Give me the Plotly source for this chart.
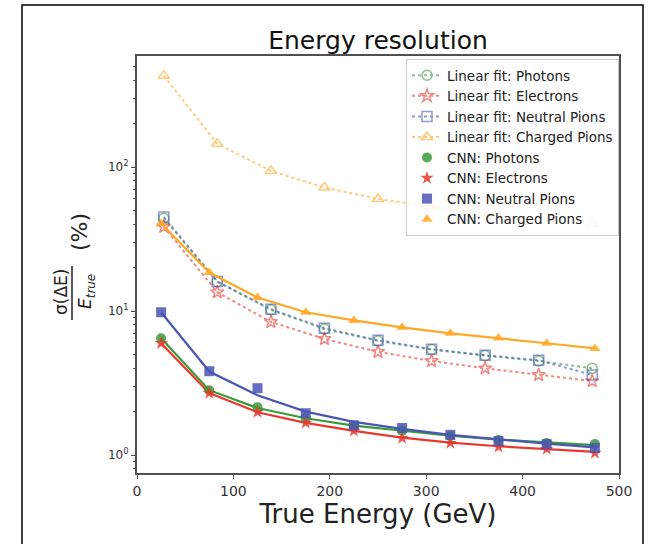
import plotly.graph_objects as go

# ---------------- data ----------------
E_lin = [27.8, 83.3, 138.9, 194.4, 250.0, 305.6, 361.1, 416.7, 472.2]
lin_photons = [44, 16, 10.2, 7.5, 6.2, 5.4, 4.9, 4.5, 4.0]
lin_electrons = [38.5, 13.5, 8.4, 6.4, 5.2, 4.5, 4.0, 3.6, 3.26]
lin_neutral = [45, 16, 10.3, 7.6, 6.27, 5.43, 4.93, 4.55, 3.6]
lin_charged = [430, 145, 94, 72, 60, 53, 47.5, 42.5, 40.5]

E_cnn = [25, 75, 125, 175, 225, 275, 325, 375, 425, 475]
cnn_photons = [6.47, 2.82, 2.15, 1.80, 1.59, 1.47, 1.35, 1.27, 1.21, 1.19]
cnn_electrons = [5.97, 2.69, 1.99, 1.67, 1.47, 1.31, 1.21, 1.14, 1.10, 1.03]
cnn_neutral = [9.8, 3.82, 2.91, 1.95, 1.61, 1.54, 1.38, 1.25, 1.19, 1.12]
cnn_charged = [40.5, 18.5, 12.4, 9.8, 8.6, 7.7, 7.0, 6.5, 5.97, 5.5]

fit_photons = [6.47, 2.82, 2.12, 1.80, 1.60, 1.47, 1.36, 1.28, 1.22, 1.17]
fit_electrons = [5.97, 2.69, 1.98, 1.67, 1.47, 1.32, 1.22, 1.15, 1.10, 1.05]
fit_neutral = [9.8, 3.8, 2.6, 2.0, 1.7, 1.52, 1.38, 1.28, 1.20, 1.13]
fit_charged = [40.5, 18.5, 12.4, 9.8, 8.6, 7.7, 7.0, 6.5, 5.97, 5.5]

y_tickvals = [1, 10, 100]
y_ticktext = ["10<sup>0</sup>", "10<sup>1</sup>", "10<sup>2</sup>"]
x_tickvals = [0, 100, 200, 300, 400, 500]

GREEN = "#3a9a3a"
RED = "#e8392f"
BLUE = "#4b55b5"
ORANGE = "#ffa726"

FONT = "DejaVu Sans"

fig = go.Figure()

lin_series = [
    ("Linear fit: Photons", lin_photons, GREEN, "circle-open"),
    ("Linear fit: Electrons", lin_electrons, RED, "star-open"),
    ("Linear fit: Neutral Pions", lin_neutral, BLUE, "square-open"),
    ("Linear fit: Charged Pions", lin_charged, ORANGE, "triangle-up-open"),
]
for name, vals, col, sym in lin_series:
    fig.add_trace(go.Scatter(
        x=E_lin, y=vals, name=name, mode="lines+markers",
        line=dict(color=col, width=2, dash="dot"),
        marker=dict(symbol=sym, size=10, color=col, line=dict(width=1.5, color=col)),
        opacity=0.6,
    ))

fit_series = [
    (fit_photons, GREEN), (fit_electrons, RED), (fit_neutral, BLUE), (fit_charged, ORANGE)
]
for vals, col in fit_series:
    fig.add_trace(go.Scatter(
        x=E_cnn, y=vals, mode="lines", showlegend=False, hoverinfo="skip",
        line=dict(color=col, width=2.2),
    ))

cnn_series = [
    ("CNN: Photons", cnn_photons, GREEN, "circle"),
    ("CNN: Electrons", cnn_electrons, RED, "star"),
    ("CNN: Neutral Pions", cnn_neutral, BLUE, "square"),
    ("CNN: Charged Pions", cnn_charged, ORANGE, "triangle-up"),
]
for name, vals, col, sym in cnn_series:
    fig.add_trace(go.Scatter(
        x=E_cnn, y=vals, name=name, mode="markers",
        marker=dict(symbol=sym, size=10, color=col, line=dict(width=0)),
        opacity=0.85,
    ))

W, H = 664, 544
L, T = 137, 56
R = W - 619
B = H - 473
pw = W - L - R
ph = H - T - B

def px(rx):
    return (rx - L) / pw

def py(ry):
    return (H - B - ry) / ph

axis_line = "#505050"
minor_vals = [v * m for m in [0.1, 1, 10, 100] for v in range(2, 10)]

fig.update_layout(
    width=W, height=H,
    margin=dict(l=L, r=R, t=T, b=B, autoexpand=False),
    paper_bgcolor="white", plot_bgcolor="white",
    font=dict(family=FONT, color="#222222"),
    title=dict(text="Energy resolution", xref="paper", x=0.5, xanchor="center",
               yref="container", y=1 - 40 / H, yanchor="middle",
               font=dict(size=25, family=FONT, color="#111111")),
    xaxis=dict(range=[0, 500], tickvals=x_tickvals, ticks="outside", ticklen=4,
               tickcolor=axis_line, showline=True, linecolor=axis_line, linewidth=2,
               mirror=True, showgrid=False, zeroline=False,
               tickfont=dict(size=14, family=FONT, color="#333333"),
               title=dict(text="True Energy (GeV)", standoff=4,
                          font=dict(size=26, family=FONT, color="#222222"))),
    yaxis=dict(type="log", range=[-0.125, 2.771], tickvals=y_tickvals, ticktext=y_ticktext,
               ticks="outside", ticklen=4, tickcolor=axis_line,
               minor=dict(tickvals=minor_vals, ticks="outside", ticklen=2, tickcolor=axis_line),
               showline=True, linecolor=axis_line, linewidth=2, mirror=True,
               showgrid=False, zeroline=False,
               tickfont=dict(size=12, family=FONT, color="#333333")),
    legend=dict(x=1.0, xanchor="right", y=py(59), yanchor="top",
                bgcolor="rgba(255,255,255,0.85)", bordercolor="#cccccc", borderwidth=1,
                font=dict(size=13.5, family=FONT, color="#222222"),
                tracegroupgap=0, itemwidth=30),
    showlegend=True,
)

# outer border
fig.add_shape(type="rect", xref="paper", yref="paper",
              x0=px(22), x1=px(643), y0=py(560), y1=py(5),
              line=dict(color="black", width=1.5), layer="below")

# y-axis label: sigma(dE)/E_true (%)
fig.add_annotation(text="(%)", xref="paper", yref="paper", x=px(79), y=py(232),
                   xanchor="center", yanchor="middle",
                   textangle=-90, showarrow=False,
                   font=dict(size=22, family=FONT, color="#222222"))
fig.add_annotation(text="σ(ΔE)", xref="paper", yref="paper", x=px(61), y=py(292),
                   xanchor="center", yanchor="middle",
                   textangle=-90, showarrow=False,
                   font=dict(size=17, family=FONT, color="#222222"))
fig.add_annotation(text="<i>E</i><sub><i>true</i></sub>", xref="paper", yref="paper",
                   x=px(86), y=py(292), xanchor="center", yanchor="middle",
                   textangle=-90, showarrow=False,
                   font=dict(size=17, family=FONT, color="#222222"))
fig.add_shape(type="line", xref="paper", yref="paper",
              x0=px(72), x1=px(72), y0=py(266), y1=py(320),
              line=dict(color="#222222", width=1.5))

fig.write_html("out.html",
               config={"displayModeBar": False},
               post_script="document.body.style.margin='0px';document.body.style.overflow='hidden';")
